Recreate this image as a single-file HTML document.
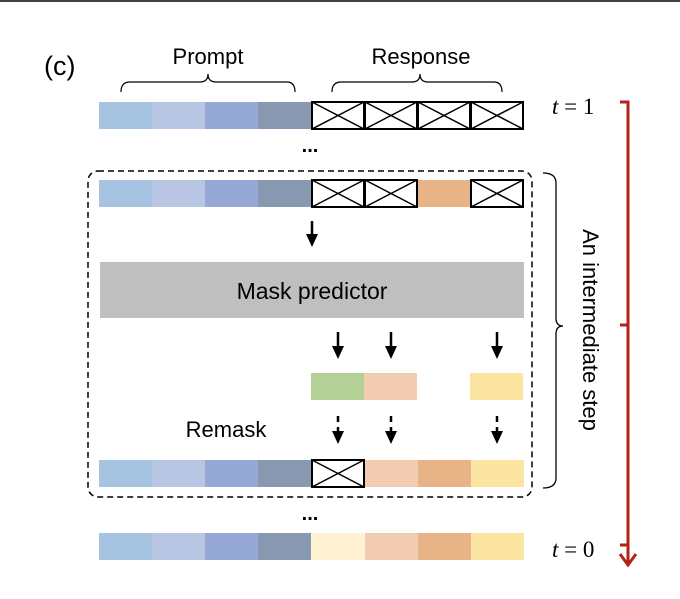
<!DOCTYPE html>
<html><head><style>body{margin:0;background:#fff}</style></head><body>
<svg width="680" height="594" viewBox="0 0 680 594" xmlns="http://www.w3.org/2000/svg" font-family="Liberation Sans, sans-serif">
<defs>
<g id="x"><rect x="0" y="0" width="52" height="27" fill="#fff" stroke="#000" stroke-width="2"/><path d="M0 0L52 27M52 0L0 27" stroke="#000" stroke-width="1.5"/></g>
<g id="p"><rect x="0" width="53" height="27" fill="#a6c3e2"/><rect x="53" width="53" height="27" fill="#b8c5e3"/><rect x="106" width="53" height="27" fill="#95a8d6"/><rect x="159" width="53" height="27" fill="#8898b0"/></g>
<marker id="ah" markerWidth="14" markerHeight="14" refX="4" refY="6" orient="auto" markerUnits="userSpaceOnUse"><path d="M0 0L13 6L0 12z" fill="#000"/></marker>
</defs>
<line x1="0" y1="1" x2="680" y2="1" stroke="#000" stroke-width="1.5"/>
<text x="44" y="75" font-size="27">(c)</text>
<text x="208" y="64" font-size="22" text-anchor="middle">Prompt</text>
<text x="421" y="64" font-size="22" text-anchor="middle">Response</text>
<path d="M121 92Q121 82 130 82L200 82Q208 82 208 74Q208 82 216 82L287 82Q295 82 295 92" fill="none" stroke="#000" stroke-width="1.2"/>
<path d="M332 92Q332 82 341 82L412 82Q420 82 420 74Q420 82 428 82L494 82Q502 82 502 92" fill="none" stroke="#000" stroke-width="1.2"/>
<use href="#p" x="99" y="102"/>
<use href="#x" x="312" y="102"/><use href="#x" x="365" y="102"/><use href="#x" x="418" y="102"/><use href="#x" x="471" y="102"/>
<text x="310" y="152" font-size="20" font-weight="bold" text-anchor="middle">...</text>
<rect x="88" y="171" width="444" height="326" rx="10" fill="none" stroke="#000" stroke-width="1.5" stroke-dasharray="6,4"/>
<use href="#p" x="99" y="180"/>
<use href="#x" x="312" y="180"/><use href="#x" x="365" y="180"/>
<rect x="418" y="180" width="53" height="27" fill="#e9b388"/>
<use href="#x" x="471" y="180"/>
<line x1="312" y1="221" x2="312" y2="238" stroke="#000" stroke-width="2.5" marker-end="url(#ah)"/>
<rect x="100" y="262" width="424" height="56" fill="#bfbfbf"/>
<text x="312" y="299" font-size="23" text-anchor="middle">Mask predictor</text>
<g stroke="#000" stroke-width="2.5">
<line x1="338" y1="332" x2="338" y2="350" marker-end="url(#ah)"/>
<line x1="391" y1="332" x2="391" y2="350" marker-end="url(#ah)"/>
<line x1="497" y1="332" x2="497" y2="350" marker-end="url(#ah)"/>
<line x1="338" y1="416" x2="338" y2="435" stroke-dasharray="6,5" marker-end="url(#ah)"/>
<line x1="391" y1="416" x2="391" y2="435" stroke-dasharray="6,5" marker-end="url(#ah)"/>
<line x1="497" y1="416" x2="497" y2="435" stroke-dasharray="6,5" marker-end="url(#ah)"/>
</g>
<rect x="311" y="373" width="53" height="27" fill="#b3d197"/>
<rect x="364" y="373" width="53" height="27" fill="#f2ccb0"/>
<rect x="470" y="373" width="53" height="27" fill="#fbe5a0"/>
<text x="226" y="437" font-size="22" text-anchor="middle">Remask</text>
<use href="#p" x="99" y="460"/>
<use href="#x" x="312" y="460"/>
<rect x="365" y="460" width="53" height="27" fill="#f2ccb0"/>
<rect x="418" y="460" width="53" height="27" fill="#e9b388"/>
<rect x="471" y="460" width="53" height="27" fill="#fbe5a0"/>
<text x="310" y="520" font-size="20" font-weight="bold" text-anchor="middle">...</text>
<use href="#p" x="99" y="533"/>
<rect x="311" y="533" width="54" height="27" fill="#fff3d3"/>
<rect x="365" y="533" width="53" height="27" fill="#f2ccb0"/>
<rect x="418" y="533" width="53" height="27" fill="#e9b388"/>
<rect x="471" y="533" width="53" height="27" fill="#fbe5a0"/>
<path d="M543 173Q556 173 556 183L556 318Q556 326 563 326Q556 326 556 334L556 478Q556 488 543 488" fill="none" stroke="#000" stroke-width="1.3"/>
<text transform="translate(583,330) rotate(90)" font-size="22" text-anchor="middle">An intermediate step</text>
<text x="552" y="114" font-size="23" font-family="Liberation Serif, serif"><tspan font-style="italic">t</tspan> = 1</text>
<text x="552" y="557" font-size="23" font-family="Liberation Serif, serif"><tspan font-style="italic">t</tspan> = 0</text>
<g stroke="#b22418" stroke-width="3" fill="none">
<path d="M620 102L628 102L628 563"/>
<path d="M620 325L628 325"/>
<path d="M620 545L628 545"/>
<path d="M620 554L628 565L636 554"/>
</g>
</svg>
</body></html>
